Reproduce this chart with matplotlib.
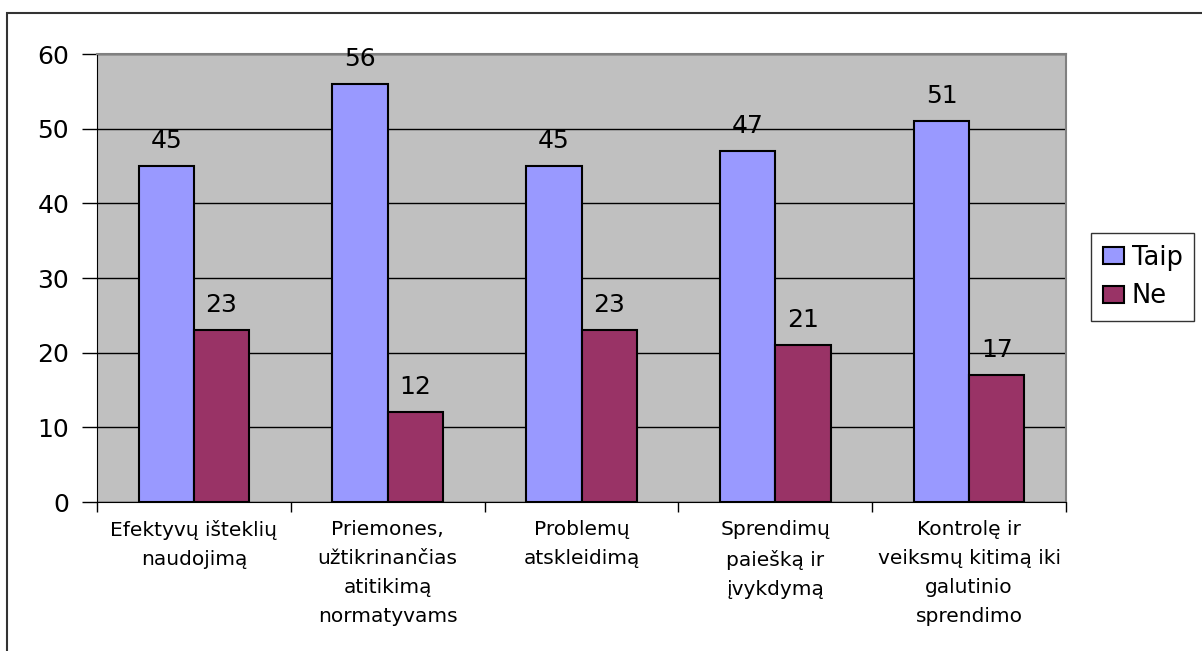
import matplotlib.pyplot as plt
import numpy as np
from matplotlib.patches import Rectangle

plt.rcParams['font.family'] = ['DejaVu Sans']

categories = [
    "Efektyvų išteklių\nnaudojimą",
    "Priemones,\nužtikrinančias\natitikimą\nnormatyvams",
    "Problemų\natskleidimą",
    "Sprendimų\npaiešką ir\nįvykdymą",
    "Kontrolę ir\nveiksmų kitimą iki\ngalutinio\nsprendimo",
]
taip = [45, 56, 45, 47, 51]
ne = [23, 12, 23, 21, 17]
series_names = ["Taip", "Ne"]
y_ticks = [0, 10, 20, 30, 40, 50, 60]

fig = plt.figure(figsize=(12.02, 6.51), dpi=100)
# chart-area frame (only top/left edges fall inside the image)
fig.patches.append(Rectangle((7 / 1202, -0.1), 1.2, (651 - 13) / 651 + 0.1,
                             transform=fig.transFigure, fill=False,
                             edgecolor='#333333', linewidth=1.5))

ax = fig.add_axes([97 / 1202, 149 / 651, 969 / 1202, 448 / 651])
ax.set_facecolor('#C0C0C0')

x = np.arange(len(categories))
w = 0.285
b1 = ax.bar(x - w / 2, taip, w, color='#9999FF', edgecolor='black', linewidth=1.5,
            label=series_names[0], zorder=3)
b2 = ax.bar(x + w / 2, ne, w, color='#993366', edgecolor='black', linewidth=1.5,
            label=series_names[1], zorder=3)
for bars, vals in ((b1, taip), (b2, ne)):
    for rect, v in zip(bars, vals):
        ax.text(rect.get_x() + rect.get_width() / 2, v + 2.4, str(v),
                ha='center', va='baseline', fontsize=18)

ax.set_xlim(-0.5, len(categories) - 0.5)
ax.set_ylim(0, 60)
ax.set_yticks(y_ticks)
ax.yaxis.grid(True, color='black', linewidth=1, zorder=1)
ax.set_axisbelow(True)
ax.tick_params(axis='y', labelsize=18, length=11, width=1, pad=9)

ax.set_xticks(np.arange(len(categories) + 1) - 0.5)
ax.set_xticklabels([])
ax.set_xticks(x, minor=True)
ax.set_xticklabels(categories, minor=True, fontsize=14.5, linespacing=1.66)
ax.tick_params(axis='x', which='major', length=7, width=1)
ax.tick_params(axis='x', which='minor', length=0, pad=13)

for side in ('top', 'right'):
    ax.spines[side].set_color('#808080')
    ax.spines[side].set_linewidth(1.5)
ax.spines['left'].set_color('black')
ax.spines['bottom'].set_color('black')

leg = fig.legend(handles=[b1, b2], loc='center left',
                 bbox_to_anchor=(1091 / 1202, 1 - 277 / 651), fontsize=18.5,
                 frameon=True, fancybox=False, edgecolor='black',
                 handlelength=0.84, handleheight=0.64, handletextpad=0.3,
                 borderpad=0.45, labelspacing=0.5, borderaxespad=0)
leg.get_frame().set_linewidth(1)

fig.savefig('out.png', dpi=100)
